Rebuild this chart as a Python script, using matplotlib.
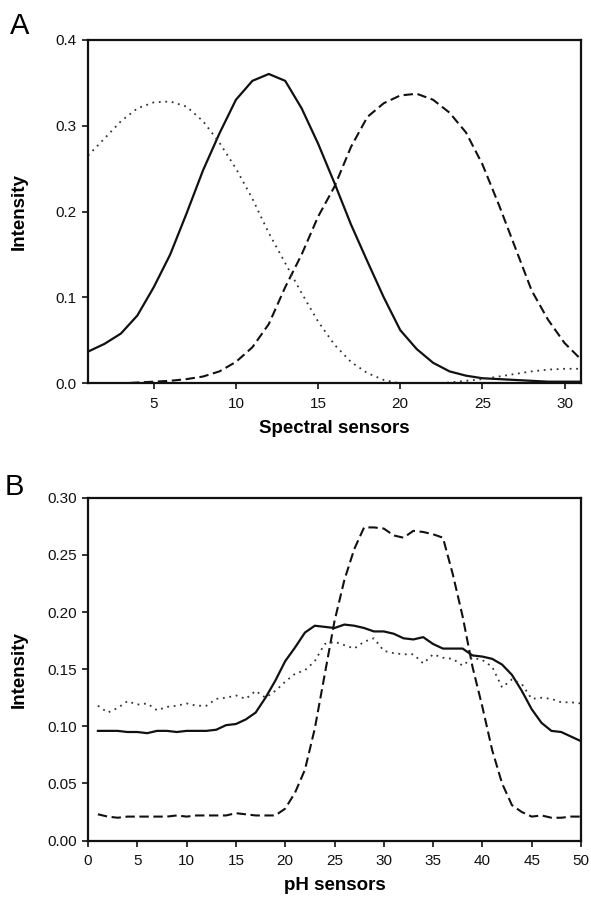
import matplotlib
matplotlib.use("Agg")
import matplotlib.pyplot as plt
from matplotlib.ticker import FormatStrFormatter

plt.rcParams['font.family'] = ['Liberation Sans', 'DejaVu Sans']

# panel A: spectral sensors 1..31
spec_x = list(range(1, 32))
spec_solid = [0.037, 0.046, 0.058, 0.079, 0.112, 0.150, 0.198, 0.248, 0.291, 0.330,
              0.352, 0.360, 0.352, 0.320, 0.279, 0.233, 0.185, 0.142, 0.100, 0.062,
              0.040, 0.024, 0.014, 0.009, 0.006, 0.005, 0.004, 0.003, 0.002, 0.002, 0.002]
spec_dashed = [0.000, 0.000, 0.000, 0.001, 0.002, 0.003, 0.005, 0.008, 0.014, 0.025,
               0.042, 0.069, 0.112, 0.150, 0.194, 0.229, 0.275, 0.310, 0.326, 0.335,
               0.337, 0.330, 0.315, 0.292, 0.255, 0.208, 0.158, 0.108, 0.074, 0.047, 0.028]
spec_dotted = [0.265, 0.285, 0.305, 0.320, 0.327, 0.328, 0.322, 0.305, 0.280, 0.250,
               0.215, 0.175, 0.140, 0.105, 0.072, 0.045, 0.025, 0.012, 0.004, 0.000,
               0.000, 0.000, 0.001, 0.003, 0.005, 0.008, 0.011, 0.014, 0.016, 0.017, 0.017]

# panel B: pH sensors 1..50
ph_x = list(range(1, 51))
ph_solid = [0.096, 0.096, 0.096, 0.095, 0.095, 0.094, 0.096, 0.096, 0.095, 0.096,
            0.096, 0.096, 0.097, 0.101, 0.102, 0.106, 0.112, 0.125, 0.140, 0.157,
            0.169, 0.182, 0.188, 0.187, 0.186, 0.189, 0.188, 0.186, 0.183, 0.183,
            0.181, 0.177, 0.176, 0.178, 0.172, 0.168, 0.168, 0.168, 0.162, 0.161,
            0.159, 0.154, 0.145, 0.131, 0.115, 0.103, 0.096, 0.095, 0.091, 0.087]
ph_dashed = [0.023, 0.021, 0.020, 0.021, 0.021, 0.021, 0.021, 0.021, 0.022, 0.021,
             0.022, 0.022, 0.022, 0.022, 0.024, 0.023, 0.022, 0.022, 0.022, 0.028,
             0.042, 0.062, 0.098, 0.145, 0.192, 0.228, 0.255, 0.274, 0.274, 0.273,
             0.267, 0.265, 0.271, 0.270, 0.268, 0.265, 0.233, 0.196, 0.152, 0.117,
             0.079, 0.050, 0.031, 0.025, 0.021, 0.022, 0.020, 0.020, 0.021, 0.021]
ph_dotted = [0.118, 0.112, 0.116, 0.122, 0.119, 0.120, 0.114, 0.117, 0.118, 0.120,
             0.118, 0.118, 0.124, 0.125, 0.127, 0.124, 0.131, 0.125, 0.131, 0.139,
             0.146, 0.149, 0.157, 0.172, 0.174, 0.171, 0.168, 0.174, 0.177, 0.166,
             0.164, 0.163, 0.163, 0.155, 0.163, 0.160, 0.159, 0.153, 0.160, 0.158,
             0.152, 0.134, 0.141, 0.137, 0.124, 0.125, 0.124, 0.121, 0.121, 0.120]

fig = plt.figure(figsize=(5.91, 9.0), dpi=100)
axA = fig.add_axes([0.149, 0.574, 0.834, 0.382])
axB = fig.add_axes([0.149, 0.066, 0.834, 0.381])

col = '#111111'

def style(ax):
    for s in ax.spines.values():
        s.set_linewidth(1.6)
        s.set_color(col)
    ax.tick_params(direction='out', length=4, width=1.2, labelsize=11, colors=col)
    ax.tick_params(axis='x', pad=6)
    ax.tick_params(axis='y', pad=4)
    ax.yaxis.set_label_coords(-0.123, 0.5)

axA.plot(spec_x, spec_solid, color=col, lw=1.6)
axA.plot(spec_x, spec_dashed, color=col, lw=1.5, dashes=(4.5, 2.2))
axA.plot(spec_x, spec_dotted, color='#333333', lw=1.3, dashes=(1.0, 2.6))
axA.set_xlim(1, 31)
axA.set_ylim(0, 0.4)
axA.set_xticks([5, 10, 15, 20, 25, 30])
axA.set_yticks([0.0, 0.1, 0.2, 0.3, 0.4])
axA.yaxis.set_major_formatter(FormatStrFormatter('%.1f'))
axA.set_xlabel('Spectral sensors', fontsize=13.5, fontweight='bold', labelpad=6)
axA.set_ylabel('Intensity', fontsize=13.5, fontweight='bold')
style(axA)
fig.text(0.017, 0.971, 'A', fontsize=21, ha='left', va='center')

axB.plot(ph_x, ph_solid, color=col, lw=1.6)
axB.plot(ph_x, ph_dashed, color=col, lw=1.5, dashes=(4.5, 2.2))
axB.plot(ph_x, ph_dotted, color='#333333', lw=1.3, dashes=(1.0, 2.6))
axB.set_xlim(0, 50)
axB.set_ylim(0, 0.30)
axB.set_xticks(range(0, 51, 5))
axB.set_yticks([0.0, 0.05, 0.10, 0.15, 0.20, 0.25, 0.30])
axB.yaxis.set_major_formatter(FormatStrFormatter('%.2f'))
axB.set_xlabel('pH sensors', fontsize=13.5, fontweight='bold', labelpad=6)
axB.set_ylabel('Intensity', fontsize=13.5, fontweight='bold')
style(axB)
fig.text(0.008, 0.459, 'B', fontsize=21, ha='left', va='center')

fig.savefig('out.png', dpi=100)
